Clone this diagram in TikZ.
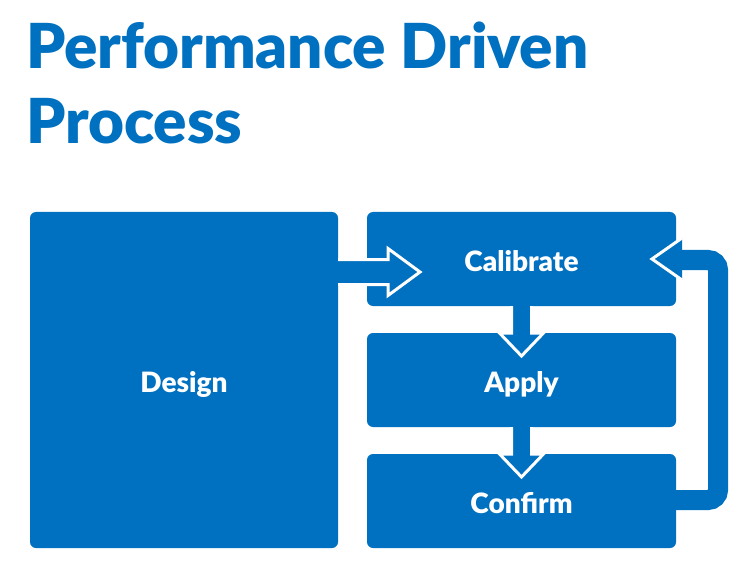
\documentclass[tikz,border=0pt]{standalone}
\usepackage{fontspec}
\setmainfont{Lato}[BoldFont={Lato Black}]
\usetikzlibrary{calc}
\definecolor{procblue}{RGB}{0,112,192}

\begin{document}
\begin{tikzpicture}[x=1pt, y=-1pt,
    every node/.style={inner sep=0pt, outer sep=0pt},
    title/.style={text=procblue, font=\bfseries\fontsize{62}{66}\selectfont, anchor=base west},
    stage/.style={fill=procblue, rounded corners=6pt, text=white, text height=25pt, text depth=0pt,
        font=\bfseries\fontsize{28}{32}\selectfont},
    blockarrow/.style={fill=procblue, draw=white, line width=3pt, line join=miter}]
            % Fixed page size, same as the slide
            \useasboundingbox (0,0) rectangle (755,572);

            % Heading in two lines
            \node[title] (title1) at (26,69) {Performance Driven};
            \node[title] (title2) at (26,144) {Process};

            % Big box on the left
            \node[stage, minimum width=308pt, minimum height=336pt] (design) at (184,380) {Design};

            % Three steps on the right, top to bottom
            \node[stage, minimum width=309pt, minimum height=94pt] (calib) at (521.5,259) {Calibrate};
            \node[stage, minimum width=309pt, minimum height=94pt] (apply) at (521.5,380) {Apply};
            \node[stage, minimum width=309pt, minimum height=94pt] (confirm) at (521.5,501) {Confirm};

            % Design -> Calibrate, hollow block arrow
            \filldraw[blockarrow] ($(design.east)+(0,-120.5)$) -- ++(50,0) -- ++(0,-11)
                -- ($(design.east)+(82,-120.5)+(0,12.5)$) -- ($(design.east)+(50,-120.5)+(0,36)$)
                -- ++(0,-11) -- ++(-50,0);

            % Calibrate -> Apply
            \filldraw[blockarrow] ($(calib.south)+(-10,0)$) -- ($(apply.north)+(-10,0)$) -- ++(-12,0)
                -- ($(apply.north)+(0,23)$) -- ($(apply.north)+(22,0)$) -- ++(-12,0) -- ($(calib.south)+(10,0)$);

            % Apply -> Confirm
            \filldraw[blockarrow] ($(apply.south)+(-10,0)$) -- ($(confirm.north)+(-10,0)$) -- ++(-12,0)
                -- ($(confirm.north)+(0,23)$) -- ($(confirm.north)+(22,0)$) -- ++(-12,0) -- ($(apply.south)+(10,0)$);

            % Confirm -> back to Calibrate
            \draw[procblue, line width=20pt, rounded corners=10pt] ($(confirm.east)+(0,-1)$) -- ++(42,0)
                |- ($(calib.east)+(6,1)$);
            \fill[procblue] ($(calib.east)+(6,-21)$) -- ($(calib.east)+(-24,0)$) -- ($(calib.east)+(6,21)$) -- cycle;
            \draw[white, line width=3pt, line join=miter] ($(calib.east)+(6,-21)$) -- ($(calib.east)+(-24,0)$)
                -- ($(calib.east)+(6,21)$);

\end{tikzpicture}
\end{document}
